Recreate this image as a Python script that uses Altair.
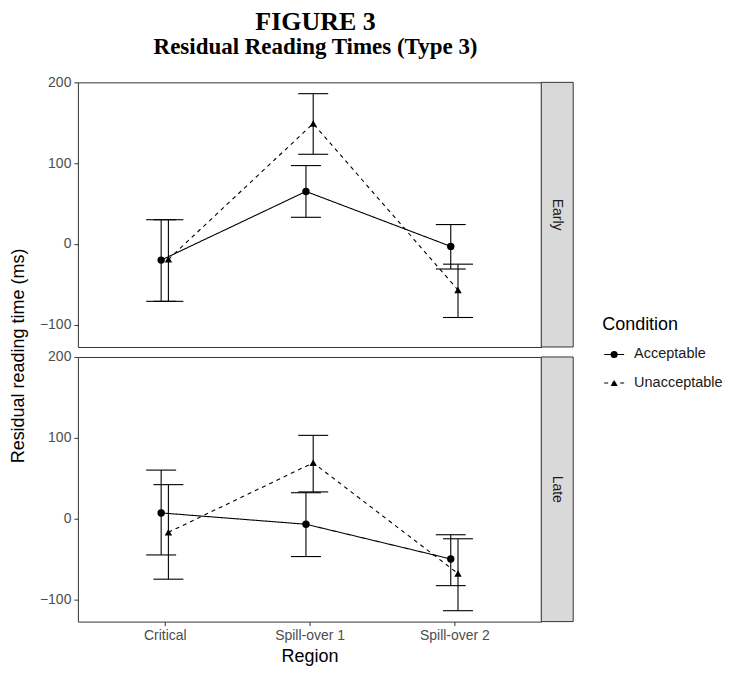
import altair as alt
import pandas as pd

regions = ["Critical", "Spill-over 1", "Spill-over 2"]
conditions = ["Acceptable", "Unacceptable"]
panels = ["Early", "Late"]
dodge = {"Acceptable": -0.025, "Unacceptable": 0.025}

early_acc_mean = [-20, 65, -3]
early_acc_lo = [-71, 33, -31]
early_acc_hi = [30, 97, 24]
early_una_mean = [-19, 149, -57]
early_una_lo = [-71, 111, -91]
early_una_hi = [30, 186, -25]

late_acc_mean = [7, -7, -50]
late_acc_lo = [-45, -47, -83]
late_acc_hi = [60, 32, -20]
late_una_mean = [-17, 69, -68]
late_una_lo = [-75, 33, -114]
late_una_hi = [42, 103, -25]

series = {
    ("Early", "Acceptable"): (early_acc_mean, early_acc_lo, early_acc_hi),
    ("Early", "Unacceptable"): (early_una_mean, early_una_lo, early_una_hi),
    ("Late", "Acceptable"): (late_acc_mean, late_acc_lo, late_acc_hi),
    ("Late", "Unacceptable"): (late_una_mean, late_una_lo, late_una_hi),
}

rows = []
for (p, c), (m, lo, hi) in series.items():
    for i, r in enumerate(regions):
        rows.append({"panel": p, "condition": c, "region": r,
                     "xpos": i + 1 + dodge[c], "mean": m[i], "lo": lo[i], "hi": hi[i]})
df = pd.DataFrame(rows)

SANS = "Liberation Sans"
SERIF = "Liberation Serif"
PW, PH = 464, 265
SW = 32

label_expr = " : ".join(
    [f"datum.value == {i+1} ? '{r}'" for i, r in enumerate(regions[:-1])] + [f"'{regions[-1]}'"]
)

dash_scale = alt.Scale(domain=conditions, range=[[1, 0], [4, 4]])
shape_scale = alt.Scale(domain=conditions, range=["circle", "triangle-up"])


def panel_chart(pname, show_x):
    d = df[df.panel == pname]
    base = alt.Chart(d)
    xscale = alt.Scale(domain=[0.4, 3.6], nice=False, zero=False)
    if show_x:
        xaxis = alt.Axis(values=[1, 2, 3], labelExpr=label_expr, title="Region",
                         labelPadding=3, titlePadding=5, domain=False, grid=False)
    else:
        xaxis = None
    yscale = alt.Scale(domain=[-127.5, 200], nice=False, zero=False)
    yaxis = alt.Axis(values=[-100, 0, 100, 200], title=None, labelPadding=3,
                     domain=False, grid=False)
    X = alt.X("xpos:Q", scale=xscale, axis=xaxis)
    rules = base.mark_rule(color="black", strokeWidth=1.1).encode(
        x=X, y=alt.Y("lo:Q", scale=yscale, axis=yaxis), y2="hi:Q")
    cap_lo = base.mark_tick(orient="horizontal", size=30, thickness=1.1, color="black", opacity=1).encode(
        x=X, y=alt.Y("lo:Q", scale=yscale, axis=yaxis))
    cap_hi = base.mark_tick(orient="horizontal", size=30, thickness=1.1, color="black", opacity=1).encode(
        x=X, y=alt.Y("hi:Q", scale=yscale, axis=yaxis))
    line = base.mark_line(color="black", strokeWidth=1.1).encode(
        x=X, y=alt.Y("mean:Q", scale=yscale, axis=yaxis),
        strokeDash=alt.StrokeDash("condition:N", scale=dash_scale, legend=None),
        detail="condition:N")
    pts = base.mark_point(filled=True, color="black", opacity=1, size=55).encode(
        x=X, y=alt.Y("mean:Q", scale=yscale, axis=yaxis),
        shape=alt.Shape("condition:N", scale=shape_scale, legend=None))
    strip_df = pd.DataFrame({"panel": [pname]})
    strip_rect = alt.Chart(strip_df).mark_rect(fill="#D9D9D9", stroke="#333333", strokeWidth=1).encode(
        x=alt.value(PW), x2=alt.value(PW + SW), y=alt.value(0), y2=alt.value(PH))
    strip_txt = alt.Chart(strip_df).mark_text(
        angle=90, fontSize=14, font=SANS, color="#1A1A1A", baseline="middle", align="center"
    ).encode(text="panel:N", x=alt.value(PW + SW / 2), y=alt.value(PH / 2))
    return alt.layer(rules, cap_lo, cap_hi, line, pts, strip_rect, strip_txt).properties(
        width=PW, height=PH, view=alt.ViewBackground(fill="white", stroke="#333333", strokeWidth=1))


main = alt.vconcat(*[panel_chart(p, show_x=(i == 1)) for i, p in enumerate(panels)], spacing=1).properties(
    title=alt.TitleParams(text="FIGURE 3", subtitle="Residual Reading Times (Type 3)",
                          font=SERIF, fontSize=26, fontWeight="bold", color="black",
                          subtitleFont=SERIF, subtitleFontSize=23, subtitleFontWeight="bold",
                          subtitleColor="black", subtitlePadding=1, anchor="middle",
                          offset=16, dx=9))

# shared y-axis title
ytitle = alt.Chart(pd.DataFrame({"t": ["Residual reading time (ms)"]})).mark_text(
    angle=270, fontSize=18, font=SANS, color="black", baseline="middle", align="center"
).encode(text="t:N", x=alt.value(10), y=alt.value(274)).properties(
    width=20, height=2 * PH + 9, view=alt.ViewBackground(stroke=None, fill=None))

# custom legend
leg_df = pd.DataFrame({"condition": conditions})
leg_y = alt.Y("condition:N", scale=alt.Scale(type="point", domain=conditions, range=[272.5, 301], padding=0), axis=None)
leg_title = alt.Chart(pd.DataFrame({"t": ["Condition"]})).mark_text(
    align="left", baseline="middle", fontSize=18, font=SANS, color="black"
).encode(text="t:N", x=alt.value(0), y=alt.value(243))
leg_rule = alt.Chart(leg_df).mark_rule(color="black", strokeWidth=1.1).encode(
    x=alt.value(2), x2=alt.value(22), y=leg_y,
    strokeDash=alt.StrokeDash("condition:N", scale=dash_scale, legend=None))
leg_pt = alt.Chart(leg_df).mark_point(filled=True, color="black", opacity=1, size=50).encode(
    x=alt.value(12), y=leg_y, shape=alt.Shape("condition:N", scale=shape_scale, legend=None))
leg_txt = alt.Chart(leg_df).mark_text(align="left", baseline="middle", fontSize=14.5, font=SANS,
                                      color="#1A1A1A").encode(
    x=alt.value(32), y=leg_y, text="condition:N")
legend = alt.layer(leg_title, leg_rule, leg_pt, leg_txt).properties(
    width=120, height=320, view=alt.ViewBackground(stroke=None, fill=None))

left = alt.hconcat(ytitle, main, spacing=9)
chart = alt.hconcat(left, legend, spacing=28).properties(
    padding={"left": 1, "top": 0, "right": 0, "bottom": 0}
).configure_view(stroke="#333333").configure_axis(
    labelFont=SANS, labelFontSize=14, labelColor="#4D4D4D",
    tickColor="#333333", tickSize=4, tickWidth=1,
    titleFont=SANS, titleFontSize=18, titleFontWeight="normal", titleColor="black"
).resolve_scale(strokeDash="shared", shape="shared")

chart.save("out.html", embed_options={"renderer": "svg", "actions": False})
